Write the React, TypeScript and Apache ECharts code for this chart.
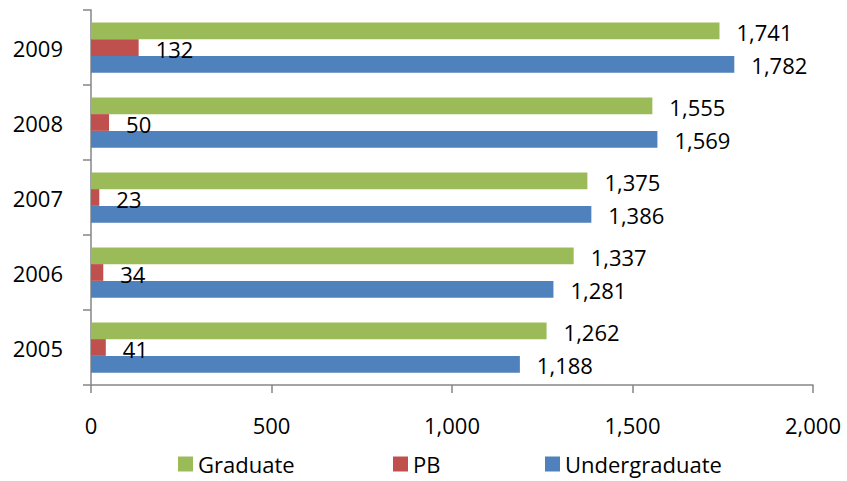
import React, { useEffect, useRef } from "react";
import * as echarts from "echarts";

const categories = ["2005", "2006", "2007", "2008", "2009"];
const graduate = [1262, 1337, 1375, 1555, 1741];
const pb = [41, 34, 23, 50, 132];
const undergraduate = [1188, 1281, 1386, 1569, 1782];
const xTicks = [0, 500, 1000, 1500, 2000];

const FONT = "Open Sans";
const fmt = (v: number) => v.toLocaleString("en-US");

export default function App() {
  const ref = useRef<HTMLDivElement>(null);
  useEffect(() => {
    if (!ref.current) return;
    document.body.style.margin = "0";
    const chart = echarts.init(ref.current, null, { renderer: "svg" });
    const axisColor = "#868686";
    const label = {
      show: true,
      position: "right",
      distance: 17,
      offset: [0, 1],
      color: "#000",
      fontFamily: FONT,
      fontSize: 22,
      formatter: (p: any) => fmt(p.value),
    };
    const legendBase = {
      top: 448,
      itemWidth: 15,
      itemHeight: 15,
      icon: "rect",
      itemGap: 7,
      textStyle: { fontFamily: FONT, fontSize: 22, color: "#000" },
    };
    chart.setOption({
      animation: false,
      backgroundColor: "#fff",
      grid: { left: 91, top: 10, right: 34, bottom: 96, containLabel: false },
      legend: [
        { ...legendBase, left: 173, data: ["Graduate"] },
        { ...legendBase, left: 388, data: ["PB"] },
        { ...legendBase, left: 540, data: ["Undergraduate"] },
      ],
      xAxis: {
        type: "value",
        min: xTicks[0],
        max: xTicks[xTicks.length - 1],
        interval: 500,
        splitLine: { show: false },
        axisLine: { show: true, lineStyle: { color: axisColor, width: 1.5 } },
        axisTick: { show: true, length: 8, lineStyle: { color: axisColor, width: 1.5 } },
        axisLabel: {
          margin: 29,
          color: "#000",
          fontFamily: FONT,
          fontSize: 22,
          formatter: (v: number) => fmt(v),
        },
      },
      yAxis: {
        type: "category",
        data: categories,
        axisLine: { show: true, lineStyle: { color: axisColor, width: 1.5 } },
        axisTick: { show: true, length: 8, lineStyle: { color: axisColor, width: 1.5 } },
        axisLabel: { margin: 28, color: "#000", fontFamily: FONT, fontSize: 22 },
      },
      series: [
        {
          name: "Graduate",
          type: "bar",
          data: graduate,
          itemStyle: { color: "#9BBB59" },
          barGap: "0%",
          barCategoryGap: "33%",
          label,
        },
        {
          name: "PB",
          type: "bar",
          data: pb,
          itemStyle: { color: "#C0504D" },
          barGap: "0%",
          barCategoryGap: "33%",
          label,
        },
        {
          name: "Undergraduate",
          type: "bar",
          data: undergraduate,
          itemStyle: { color: "#4F81BD" },
          barGap: "0%",
          barCategoryGap: "33%",
          label,
        },
      ],
    });
    return () => chart.dispose();
  }, []);
  return <div ref={ref} style={{ width: 847, height: 481 }} />;
}
